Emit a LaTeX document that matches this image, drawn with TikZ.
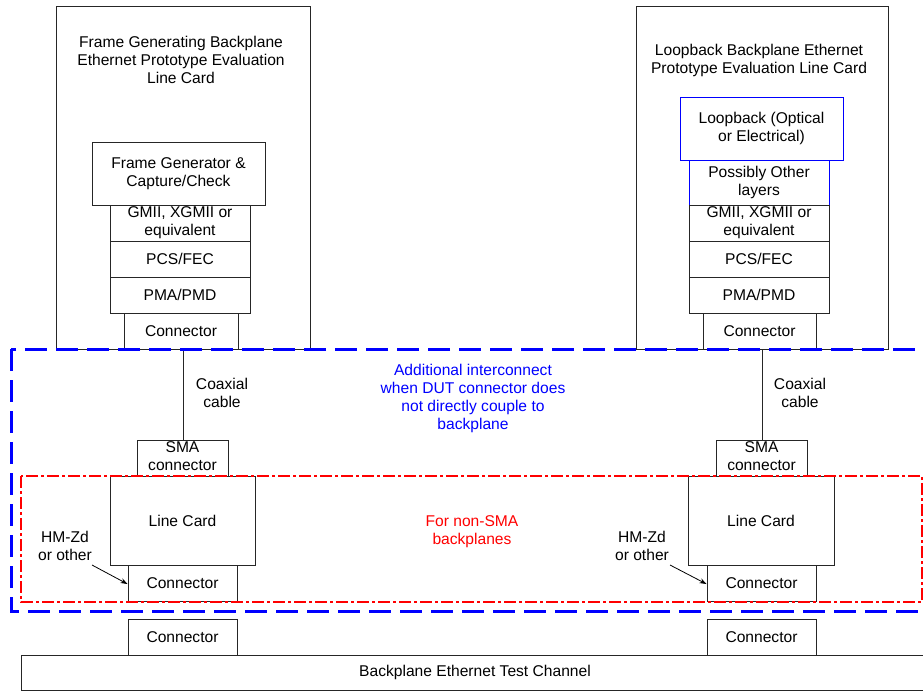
\documentclass[tikz,border=0pt]{standalone}
\usepackage{fontspec}
\setmainfont{Liberation Sans}
\usetikzlibrary{arrows.meta}
\definecolor{bblue}{RGB}{0,0,255}
\definecolor{rred}{RGB}{255,0,0}
\newcommand{\twoup}[2]{\raisebox{3pt}{\begin{tabular}{@{}c@{}}#1\\#2\end{tabular}}}
\tikzset{
  box/.style={draw=black!85, line width=1pt, rectangle, inner sep=0pt, align=center, font=\fontsize{15.6}{18}\selectfont},
  bluebox/.style={box, draw=bblue},
  lbl/.style={inner sep=0pt, align=center, font=\fontsize{15.6}{18}\selectfont},
  wire/.style={draw=black!85, line width=1pt},
  pointer/.style={draw=black, line width=0.8pt, -{Stealth[length=7pt,width=5pt]}},
  bluereg/.style={draw=bblue, line width=3pt, dash pattern=on 22pt off 9pt},
  redreg/.style={draw=rred, line width=2pt, dash pattern=on 12pt off 3pt on 3pt off 3pt}
}
\begin{document}
\begin{tikzpicture}[x=1pt,y=-1pt]
\useasboundingbox (0,0) rectangle (923,691);
\clip (0,0) rectangle (923,691);
% left card
\node[box, minimum width=254pt, minimum height=343pt] (lcard) at (183,177.5) {};
\node[lbl] (ltitle) at (181,60) {Frame Generating Backplane\\Ethernet Prototype Evaluation\\Line Card};
\node[box, minimum width=173pt, minimum height=63pt] (lfg) at (178.5,173.5) {Frame Generator \&\\Capture/Check};
\node[box, minimum width=140pt, minimum height=36pt] (lgmii) at (180,223) {GMII, XGMII or\\equivalent};
\node[box, minimum width=140pt, minimum height=36pt] (lpcs) at (180,259) {PCS/FEC};
\node[box, minimum width=140pt, minimum height=36pt] (lpma) at (180,295) {PMA/PMD};
\node[box, minimum width=114pt, minimum height=36pt] (lconn) at (181,331) {Connector};
\node[box, minimum width=91pt, minimum height=36pt] (lsma) at (182.5,458) {\twoup{SMA}{connector}};
\node[box, minimum width=145pt, minimum height=89pt] (llc) at (182.5,520.5) {Line Card};
\node[box, minimum width=109pt, minimum height=36pt] (lconn2) at (182.5,583) {Connector};
\node[box, minimum width=109pt, minimum height=36pt] (lconn3) at (182.5,637) {Connector};
% right card
\node[box, minimum width=252pt, minimum height=343pt] (rcard) at (762,177.5) {};
\node[lbl] (rtitle) at (759,60) {Loopback Backplane Ethernet\\Prototype Evaluation Line Card};
\node[bluebox, minimum width=163pt, minimum height=63pt] (rloop) at (761.5,128.5) {Loopback (Optical\\or Electrical)};
\node[bluebox, minimum width=140pt, minimum height=45pt] (rother) at (759,182.5) {Possibly Other\\layers};
\node[box, minimum width=140pt, minimum height=36pt] (rgmii) at (759,223) {GMII, XGMII or\\equivalent};
\node[box, minimum width=140pt, minimum height=36pt] (rpcs) at (759,259) {PCS/FEC};
\node[box, minimum width=140pt, minimum height=36pt] (rpma) at (759,295) {PMA/PMD};
\node[box, minimum width=113pt, minimum height=36pt] (rconn) at (759.5,331) {Connector};
\node[box, minimum width=91pt, minimum height=36pt] (rsma) at (761.5,458) {\twoup{SMA}{connector}};
\node[box, minimum width=146pt, minimum height=89pt] (rlc) at (761,520.5) {Line Card};
\node[box, minimum width=109pt, minimum height=36pt] (rconn2) at (761.5,583) {Connector};
\node[box, minimum width=109pt, minimum height=36pt] (rconn3) at (761.5,637) {Connector};
% backplane
\node[box, minimum width=908pt, minimum height=35pt] (bp) at (475,672.5) {Backplane Ethernet Test Channel};
% cables
\draw[wire] (lconn.south) ++(2,0) coordinate (lc1) -- (lc1 |- lsma.north);
\draw[wire] (rconn.south) ++(2.5,0) coordinate (rc1) -- (rc1 |- rsma.north);
\node[lbl] (lcoax) at (222,393) {Coaxial\\cable};
\node[lbl] (rcoax) at (800,393) {Coaxial\\cable};
% HM-Zd labels
\node[lbl] (lhm) at (65,546) {HM-Zd\\or other};
\node[lbl] (rhm) at (642,546) {HM-Zd\\or other};
\coordinate (lhs) at (92,565);
\coordinate (rhs) at (670,565);
\draw[pointer] (lhs) -- ([yshift=-1pt]lconn2.west);
\draw[pointer] (rhs) -- ([yshift=-1pt]rconn2.west);
% regions
\draw[redreg] (21,476) rectangle (922,602);
\draw[bluereg] (11,349) rectangle (945,611);
\node[lbl, text=bblue] (bluetxt) at (473,398) {Additional interconnect\\when DUT connector does\\not directly couple to\\backplane};
\node[lbl, text=rred] (redtxt) at (472,532) {For non-SMA\\backplanes};
\end{tikzpicture}
\end{document}
